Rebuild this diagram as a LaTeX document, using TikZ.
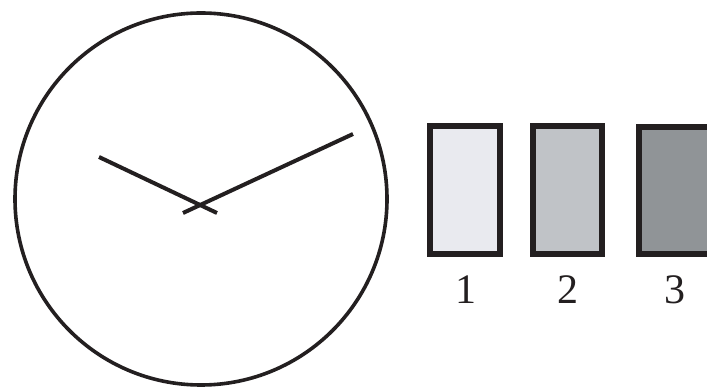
\documentclass[tikz,border=0pt]{standalone}
\usepackage{fontspec}
\setmainfont{Liberation Serif}
\begin{document}
\begin{tikzpicture}[x=1pt,y=-1pt,
  ink/.style={draw=inkc,line width=3.6pt},
  hand/.style={draw=inkc,line width=4pt},
  swatch/.style={draw=inkc,line width=6.5pt},
  lbl/.style={font=\fontsize{42}{42}\selectfont,text=inkc,inner sep=0pt}]
\definecolor{inkc}{HTML}{231F20}
\definecolor{c1}{HTML}{E9EAEF}
\definecolor{c2}{HTML}{C0C3C7}
\definecolor{c3}{HTML}{909497}
\path[use as bounding box] (0,0) rectangle (707,387);
\fill[white] (0,0) rectangle (707,387);
% clock
\coordinate (o) at (201,199);
\draw[ink] (o) circle[radius=186];
\coordinate (h1) at (99,157);
\coordinate (h2) at (217,213);
\coordinate (m1) at (353,134);
\coordinate (m2) at (183,213);
\draw[hand] (h1) -- (h2);
\draw[hand] (m1) -- (m2);
% swatches
\draw[swatch,fill=c1] (430,126) rectangle (500,254);
\draw[swatch,fill=c2] (533,126) rectangle (602,254);
\draw[swatch,fill=c3] (639,127) rectangle (712,254);
\node[lbl] (n1) at (466,290) {1};
\node[lbl] (n2) at (568,290) {2};
\node[lbl] (n3) at (675,290) {3};
\end{tikzpicture}
\end{document}
